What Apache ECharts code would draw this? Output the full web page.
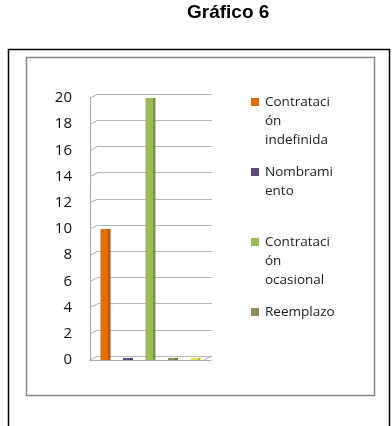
<!DOCTYPE html>
<html>
<head>
<meta charset="utf-8">
<script src="https://cdn.jsdelivr.net/npm/echarts@6/dist/echarts.min.js"></script>
<style>
  html, body { margin: 0; padding: 0; background: #fff; }
  #main { width: 392px; height: 426px; }
</style>
</head>
<body>
<div id="main"></div>
<script>
// datos
var categories = ['Tipo de contrato'];
var seriesNames = ['Contratación indefinida', 'Nombramiento', 'Contratación ocasional', 'Reemplazo', 'Otro'];
var seriesValues = [10, 0, 20, 0, 0];
var seriesColors = ['#E46C0A', '#604A7B', '#9BBB59', '#948A54', '#E8E84C'];
var sideColors = ['#B4540A', '#4A3960', '#7A9644', '#746B40', '#BDBD30'];
var legendNames = ['Contratación indefinida', 'Nombramiento', 'Contratación ocasional', 'Reemplazo'];
var legendLines = [
  ['Contrataci', 'ón', 'indefinida'],
  ['Nombrami', 'ento', ' '],
  ['Contrataci', 'ón', 'ocasional'],
  ['Reemplazo', ' ', ' ']
];
var yTickValues = [0, 2, 4, 6, 8, 10, 12, 14, 16, 18, 20];
var yMin = 0, yMax = 20, yInterval = 2;

// desplazamiento de la pared del fondo (efecto 3D)
var DX = 8, DY = 4;

var myChart = echarts.init(document.getElementById('main'));

var rich = {
  t: { fontSize: 13.5, lineHeight: 19, color: '#222', fontFamily: 'Open Sans' },
  g: { width: 6 },
  p: { width: 14 }
};
legendNames.forEach(function (n, i) {
  rich['b' + i] = { width: 8, height: 8, backgroundColor: seriesColors[i] };
});

var series = seriesNames.map(function (name, i) {
  return {
    name: name,
    type: 'bar',
    xAxisIndex: 0,
    yAxisIndex: 0,
    barWidth: 10,
    barGap: '125%',
    barMinHeight: 2,
    z: 5,
    data: [seriesValues[i]],
    itemStyle: {
      color: new echarts.graphic.LinearGradient(0, 0, 1, 0, [
        { offset: 0, color: seriesColors[i] },
        { offset: 0.72, color: seriesColors[i] },
        { offset: 0.72, color: sideColors[i] },
        { offset: 1, color: sideColors[i] }
      ])
    }
  };
});

// diagonales entre la pared del fondo y el eje frontal
series.push({
  type: 'custom',
  xAxisIndex: 1,
  yAxisIndex: 1,
  silent: true,
  z: 2,
  data: yTickValues.map(function (v) { return [categories[0], v]; }),
  renderItem: function (params, api) {
    var cs = params.coordSys;
    var p = api.coord([api.value(0), api.value(1)]);
    var children = [{
      type: 'line',
      shape: { x1: cs.x, y1: p[1], x2: cs.x - DX, y2: p[1] + DY },
      style: { stroke: '#aaa', lineWidth: 1 }
    }];
    if (api.value(1) === yMin) {
      children.push({
        type: 'line',
        shape: { x1: cs.x + cs.width, y1: p[1], x2: cs.x + cs.width - DX, y2: p[1] + DY },
        style: { stroke: '#aaa', lineWidth: 1 }
      });
    }
    return { type: 'group', children: children };
  }
});

myChart.setOption({
  animation: false,
  title: {
    text: 'Gráfico 6',
    left: 187,
    top: 3,
    padding: 0,
    textAlign: 'left',
    textStyle: { fontFamily: 'Liberation Sans', fontWeight: 'bold', fontSize: 19, color: '#000' }
  },
  graphic: [
    { type: 'rect', shape: { x: 8.5, y: 49.5, width: 381, height: 400 }, style: { fill: 'none', stroke: '#000', lineWidth: 1.5 } },
    { type: 'rect', shape: { x: 26.5, y: 57.5, width: 348, height: 338 }, style: { fill: 'none', stroke: '#888', lineWidth: 1.5 } }
  ],
  legend: {
    data: legendNames,
    orient: 'vertical',
    left: 241,
    top: 90,
    itemGap: 18,
    itemWidth: 0,
    itemHeight: 0,
    selectedMode: false,
    textStyle: { rich: rich },
    formatter: function (name) {
      var i = legendNames.indexOf(name);
      var lines = legendLines[i];
      return lines.map(function (l, k) {
        return (k === 0 ? '{b' + i + '|}{g|}' : '{p|}') + '{t|' + l + '}';
      }).join('\n');
    }
  },
  grid: [
    { left: 90, right: 181, top: 98, bottom: 66 },
    { left: 90 + DX, right: 180, top: 98 - DY, bottom: 66 + DY }
  ],
  xAxis: [
    {
      type: 'category',
      gridIndex: 0,
      data: categories,
      axisLine: { lineStyle: { color: '#aaa' } },
      axisTick: { show: false },
      axisLabel: { show: false }
    },
    {
      type: 'category',
      gridIndex: 1,
      data: categories,
      axisLine: { show: false },
      axisTick: { show: false },
      axisLabel: { show: false }
    }
  ],
  yAxis: [
    {
      type: 'value',
      gridIndex: 0,
      min: yMin,
      max: yMax,
      interval: yInterval,
      axisLine: { show: true, lineStyle: { color: '#aaa' } },
      axisTick: { show: false },
      axisLabel: { fontSize: 15, color: '#111', fontFamily: 'Open Sans', margin: 18 },
      splitLine: { show: false }
    },
    {
      type: 'value',
      gridIndex: 1,
      min: yMin,
      max: yMax,
      interval: yInterval,
      axisLine: { show: false },
      axisTick: { show: false },
      axisLabel: { show: false },
      splitLine: { lineStyle: { color: '#b5b5b5' } }
    }
  ],
  series: series
});
</script>
</body>
</html>
